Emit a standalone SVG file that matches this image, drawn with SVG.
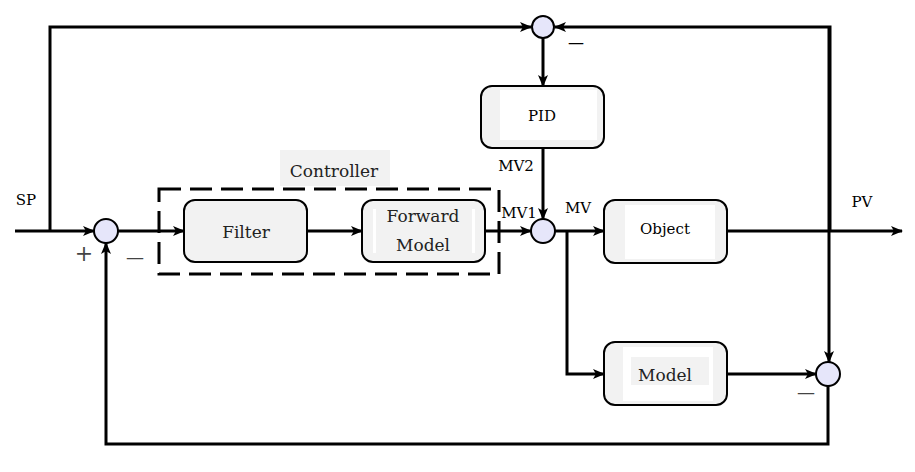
<svg xmlns="http://www.w3.org/2000/svg" width="915" height="472" viewBox="0 0 915 472">
<defs>
<marker id="ah" viewBox="0 0 12 10" refX="11" refY="5" markerWidth="12" markerHeight="10" markerUnits="userSpaceOnUse" orient="auto">
<path d="M0,0 L12,5 L0,10 L3,5 Z" fill="#000"/>
</marker>
</defs>
<style>
.ln{fill:none;stroke:#000;stroke-width:3}
.box{fill:#f2f2f2;stroke:#000;stroke-width:2}
.sum{fill:#e6e6fa;stroke:#000;stroke-width:2}
</style>
<rect width="915" height="472" fill="#fff"/>
<g id="connectors">
<path class="ln" d="M15,231 H94" marker-end="url(#ah)"/>
<path class="ln" d="M50,231 V27 H531" marker-end="url(#ah)"/>
<path class="ln" d="M830,231 V27 H555" marker-end="url(#ah)"/>
<path class="ln" d="M829,27 V362" marker-end="url(#ah)"/>
<path class="ln" d="M543,38 V86" marker-end="url(#ah)"/>
<path class="ln" d="M543,148 V219" marker-end="url(#ah)"/>
<path class="ln" d="M118,231 H184" marker-end="url(#ah)"/>
<path class="ln" d="M307,231 H362" marker-end="url(#ah)"/>
<path class="ln" d="M485,231 H531" marker-end="url(#ah)"/>
<path class="ln" d="M555,231 H604" marker-end="url(#ah)"/>
<path class="ln" d="M567,231 V374 H604" marker-end="url(#ah)"/>
<path class="ln" d="M727,231 H902" marker-end="url(#ah)"/>
<path class="ln" d="M727,374 H816" marker-end="url(#ah)"/>
<path class="ln" d="M828,386 V444 H106 V243" marker-end="url(#ah)"/>
</g>
<g id="controller">
<rect x="280" y="150" width="110" height="36" fill="#f2f2f2"/>
<text font-family="DejaVu Serif, serif" font-size="17" fill="#222" x="334" y="177" text-anchor="middle">Controller</text>
<rect x="159" y="189" width="340" height="85" fill="none" stroke="#000" stroke-width="3" stroke-dasharray="22,9"/>
</g>
<g id="filter">
<rect class="box" x="184" y="200" width="123" height="62" rx="11"/>
<text font-family="DejaVu Serif, serif" font-size="17" fill="#222" x="246" y="238" text-anchor="middle">Filter</text>
</g>
<g id="forward-model">
<rect class="box" x="362" y="200" width="123" height="62" rx="11"/>
<rect x="373" y="209" width="3" height="44" fill="#fff"/>
<rect x="472" y="209" width="3" height="44" fill="#fff"/>
<text font-family="DejaVu Serif, serif" font-size="17" fill="#222" x="423" y="222" text-anchor="middle">Forward</text>
<text font-family="DejaVu Serif, serif" font-size="17" fill="#222" x="423" y="251" text-anchor="middle">Model</text>
</g>
<g id="pid">
<rect class="box" x="481" y="86" width="123" height="62" rx="11"/>
<rect x="500" y="90" width="97" height="50" fill="#fff"/>
<text font-family="DejaVu Serif, serif" font-size="15" fill="#000" x="542" y="121" text-anchor="middle">PID</text>
</g>
<g id="object">
<rect class="box" x="604" y="200" width="123" height="63" rx="11"/>
<rect x="625" y="205" width="90" height="54" fill="#fff"/>
<text font-family="DejaVu Serif, serif" font-size="15" fill="#000" x="665" y="234" text-anchor="middle">Object</text>
</g>
<g id="model">
<rect class="box" x="604" y="342" width="123" height="63" rx="11"/>
<rect x="623" y="347" width="90" height="54" fill="#fff"/>
<rect x="631" y="357" width="78" height="28" fill="#f2f2f2"/>
<text font-family="DejaVu Serif, serif" font-size="17" fill="#222" x="665" y="381" text-anchor="middle">Model</text>
</g>
<g id="sum-top">
<circle class="sum" cx="543" cy="27" r="11"/>
<text font-family="DejaVu Serif, serif" font-size="16" fill="#000" x="576" y="48" text-anchor="middle">—</text>
</g>
<g id="sum-input">
<circle class="sum" cx="106" cy="231" r="12"/>
<text font-family="DejaVu Serif, serif" font-size="22" fill="#444" x="84" y="261" text-anchor="middle">+</text>
<text font-family="DejaVu Serif, serif" font-size="18" fill="#444" x="135" y="264" text-anchor="middle">—</text>
</g>
<g id="sum-mv">
<circle class="sum" cx="543" cy="231" r="12"/>
</g>
<g id="sum-model">
<circle class="sum" cx="828" cy="374" r="12"/>
<text font-family="DejaVu Serif, serif" font-size="18" fill="#444" x="806" y="399" text-anchor="middle">—</text>
</g>
<g id="labels">
<text font-family="DejaVu Serif, serif" font-size="15" fill="#000" x="26" y="205" text-anchor="middle">SP</text>
<text font-family="DejaVu Serif, serif" font-size="15" fill="#000" x="862" y="207" text-anchor="middle">PV</text>
<text font-family="DejaVu Serif, serif" font-size="15" fill="#000" x="578" y="213" text-anchor="middle">MV</text>
<text font-family="DejaVu Serif, serif" font-size="15" fill="#000" x="519" y="218" text-anchor="middle">MV1</text>
<text font-family="DejaVu Serif, serif" font-size="15" fill="#000" x="516" y="171" text-anchor="middle">MV2</text>
</g>
</svg>
